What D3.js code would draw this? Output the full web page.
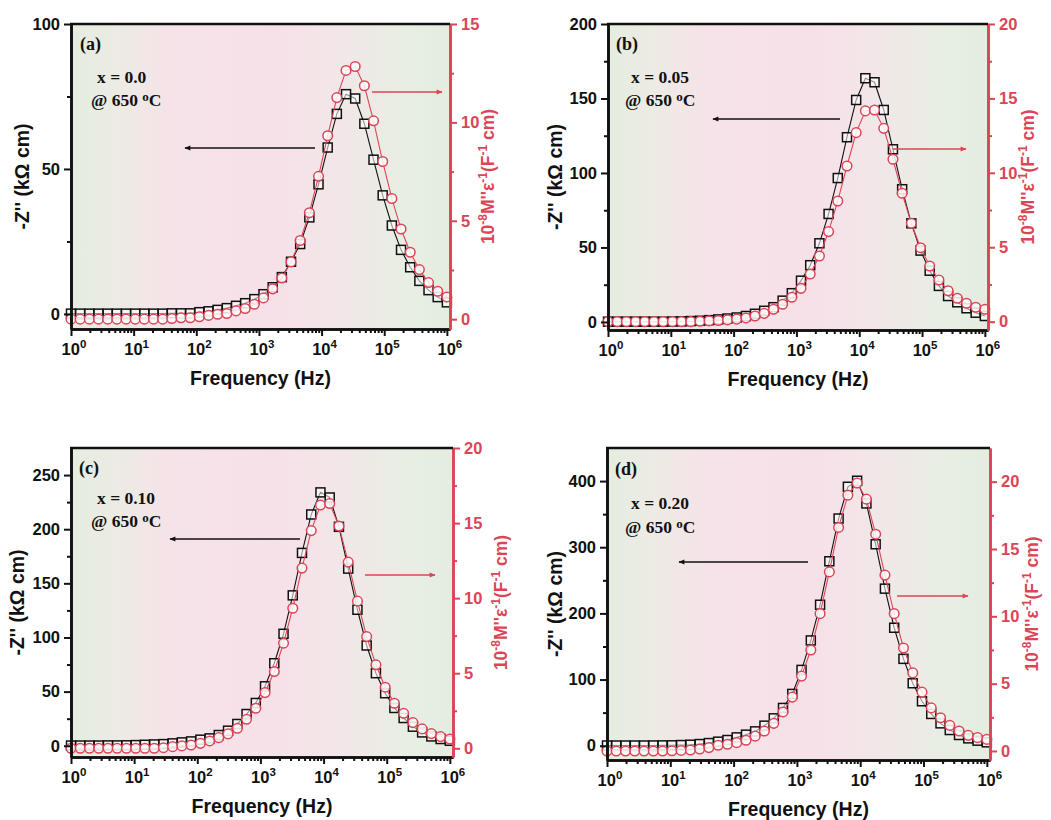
<!DOCTYPE html>
<html>
<head>
<meta charset="utf-8">
<script src="https://cdn.jsdelivr.net/npm/d3@7"></script>
<style>
body { margin: 0; background: #fff; }
text { font-family: "Liberation Sans", Arial, sans-serif; }
</style>
</head>
<body>
<div id="chart"></div>
<script>
// frequency grid (Hz), 42 log-spaced points from 1 Hz to 1 MHz
var freq = [1, 1.40, 1.96, 2.75, 3.85, 5.39, 7.55, 10.6, 14.8, 20.8, 29.1, 40.7, 57.0, 79.9,
  112, 157, 219, 307, 431, 603, 845, 1183, 1658, 2322, 3252, 4555, 6380, 8937,
  12520, 17530, 24560, 34400, 48180, 67480, 94540, 132400, 185500, 259800, 363900, 509700, 713900, 1000000];

// -Z'' (kOhm cm)
var zA = [0.1, 0.1, 0.1, 0.1, 0.1, 0.1, 0.1, 0.1, 0.1, 0.1, 0.1, 0.2, 0.2, 0.2, 0.6, 0.9, 1.4, 2.0, 2.8, 3.7, 5.1,
  6.8, 9.2, 12.7, 18.0, 24.1, 33.3, 44.7, 57.4, 69.0, 75.8, 74.3, 65.6, 53.2, 40.9, 30.5, 22.1, 16.1, 11.4, 8.2, 5.8, 4.0];
var zB = [0.2, 0.2, 0.2, 0.2, 0.2, 0.2, 0.2, 0.3, 0.4, 0.6, 0.8, 1.2, 1.7, 2.3, 3.0, 4.0, 5.5, 7.5,
  9.9, 14.3, 19.3, 27.7, 38.1, 52.8, 72.5, 96.6, 124, 149, 163.6, 160.9, 142.3, 115.9, 89.1, 66.2, 47.9, 34.4, 24.2, 17.4, 13.2, 9.2, 6.2, 4.0];
var zC = [0.2, 0.2, 0.2, 0.2, 0.3, 0.3, 0.4, 0.6, 0.9, 1.2, 1.5, 2.2, 3.1, 4.0, 5.6, 6.8, 9.9, 13.9, 20.1, 29.3, 39.5,
  54.9, 76.2, 103.4, 138.9, 178.1, 213.6, 234.0, 229.3, 202.2, 163.6, 125.6, 92.6, 67.0, 48.5, 34.9, 25.6, 17.6, 12.3, 8.6, 6.2, 4.6];
var zD = [0.3, 0.3, 0.3, 0.3, 0.3, 0.4, 0.5, 0.6, 1.0, 1.5, 2.5, 4.0, 6.1, 8.6, 12.6, 16.7, 21.7, 30.3, 41.4, 57.1, 78.3,
  114.6, 159.1, 213.1, 278.8, 343.4, 391.4, 400.5, 366.2, 304.5, 237.4, 178.3, 131.3, 94.4, 67.2, 48.0, 33.8, 23.7, 16.2, 11.1, 7.6, 5.1];

// 10^-8 M''/eps (F^-1 cm)
var mA = [0, 0, 0, 0, 0, 0, 0, 0, 0, 0, 0, 0.03, 0.07, 0.07, 0.12, 0.19, 0.25, 0.29, 0.42, 0.54, 0.76,
  1.08, 1.54, 2.09, 2.91, 4.00, 5.41, 7.26, 9.32, 11.26, 12.64, 12.84, 11.86, 10.08, 8.01, 6.13, 4.58, 3.40, 2.52, 1.86, 1.42, 1.13];
var mB = [0, 0, 0, 0, 0, 0, 0, 0, 0, 0, 0.03, 0.05, 0.08, 0.12, 0.17, 0.25, 0.38, 0.56, 0.83, 1.17, 1.64,
  2.24, 3.2, 4.41, 6.05, 8.11, 10.46, 12.70, 14.16, 14.22, 12.99, 10.91, 8.63, 6.61, 4.97, 3.74, 2.80, 2.08, 1.57, 1.24, 0.97, 0.83];
var mC = [0, 0, 0, 0, 0, 0, 0, 0, 0, 0, 0.04, 0.11, 0.16, 0.22, 0.33, 0.49, 0.71, 0.96, 1.33, 1.93, 2.67,
  3.71, 5.11, 7.0, 9.33, 12.0, 14.5, 16.2, 16.3, 14.8, 12.4, 9.8, 7.44, 5.56, 4.07, 3.0, 2.33, 1.71, 1.29, 0.98, 0.78, 0.62];
var mD = [0, 0, 0, 0, 0, 0, 0, 0.02, 0.04, 0.07, 0.15, 0.25, 0.42, 0.5, 0.62, 0.8, 1.1, 1.48, 2.05, 2.9, 4.0,
  5.56, 7.5, 10.2, 13.3, 16.6, 19.0, 19.9, 18.7, 16.1, 13.06, 10.2, 7.65, 5.8, 4.37, 3.2, 2.47, 1.9, 1.48, 1.16, 0.99, 0.86];

var panelTags = ["(a)", "(b)", "(c)", "(d)"];
var compositions = ["x = 0.0", "x = 0.05", "x = 0.10", "x = 0.20"];
var xExponents = [0, 1, 2, 3, 4, 5, 6];
var zTickSets = [[0, 50, 100], [0, 50, 100, 150, 200], [0, 50, 100, 150, 200, 250], [0, 100, 200, 300, 400]];
var zMinorSets = [[25, 75], [25, 75, 125, 175], [25, 75, 125, 175, 225], [50, 150, 250, 350]];
var mTickSets = [[0, 5, 10, 15], [0, 5, 10, 15, 20], [0, 5, 10, 15, 20], [0, 5, 10, 15, 20]];
var mMinorSets = [[2.5, 7.5, 12.5], [2.5, 7.5, 12.5, 17.5], [2.5, 7.5, 12.5, 17.5], [2.5, 7.5, 12.5, 17.5]];

var red = "#dc4556";
var width = 1051, height = 820;

// layout of each panel (pixel boxes, axis ranges, annotation spots)
var panels = [
  {z: zA, m: mA, L: 71, R: 450, T: 24, B: 329, zDom: [-5.2, 100], mDom: [-0.5, 15],
   tag: [9, 20], comp: [26, 53], temp: [20, 76], zt: 49, mt: 38,
   back: [[315, 148], [185, 148]], fwd: [[372, 92], [442, 92]]},
  {z: zB, m: mB, L: 608, R: 988, T: 24, B: 330, zDom: [-5.4, 200], mDom: [-0.56, 20],
   tag: [8, 20], comp: [23, 53], temp: [17, 76], zt: 53, mt: 40,
   back: [[840, 119], [713, 119]], fwd: [[893, 149], [966, 149]]},
  {z: zC, m: mC, L: 71, R: 453, T: 448, B: 757, zDom: [-10.4, 275], mDom: [-0.58, 20],
   tag: [8, 20], comp: [26, 50], temp: [20, 73], zt: 54, mt: 48,
   back: [[300, 539], [170, 539]], fwd: [[365, 575], [435, 575]]},
  {z: zD, m: mD, L: 607, R: 990, T: 448, B: 760, zDom: [-21.6, 450], mDom: [-0.67, 22.5],
   tag: [8, 21], comp: [24, 55], temp: [18, 79], zt: 52, mt: 42,
   back: [[808, 562], [679, 562]], fwd: [[897, 596], [968, 596]]}
];

var svg = d3.select("#chart").append("svg")
  .attr("width", width)
  .attr("height", height);

var defs = svg.append("defs");
var grad = defs.append("linearGradient").attr("id", "bg")
  .attr("x1", "0%").attr("x2", "100%").attr("y1", "0%").attr("y2", "0%");
[["0%", "#e5ede0"], ["12%", "#ecebe4"], ["28%", "#f6e2e9"], ["55%", "#f7e1e9"],
 ["72%", "#f1e7e8"], ["88%", "#e8eee3"], ["100%", "#e4ede0"]].forEach(function(s) {
  grad.append("stop").attr("offset", s[0]).attr("stop-color", s[1]);
});
["blk", "red"].forEach(function(id) {
  defs.append("marker").attr("id", "head-" + id)
    .attr("viewBox", "0 0 10 10").attr("refX", 9).attr("refY", 5)
    .attr("markerWidth", 7).attr("markerHeight", 6).attr("orient", "auto")
    .attr("markerUnits", "userSpaceOnUse")
    .append("path").attr("d", "M0,1 L10,5 L0,9 Z")
    .attr("fill", id == "red" ? red : "#111");
});

panels.forEach(drawPanel);

function drawPanel(p, i) {
  var x = d3.scaleLog().domain([1, Math.pow(10, 6.05)]).range([p.L, p.R]);
  var yz = d3.scaleLinear().domain(p.zDom).range([p.B, p.T]);
  var ym = d3.scaleLinear().domain(p.mDom).range([p.B, p.T]);
  var g = svg.append("g");

  g.append("rect")
    .attr("x", p.L).attr("y", p.T)
    .attr("width", p.R - p.L).attr("height", p.B - p.T)
    .attr("fill", "url(#bg)");

  var pts = freq.map(function(f, k) { return {f: f, z: p.z[k], m: p.m[k]}; });

  // -Z'' series
  g.append("path").datum(pts)
    .attr("d", d3.line().x(function(d) { return x(d.f); }).y(function(d) { return yz(d.z); }))
    .attr("fill", "none").attr("stroke", "#111").attr("stroke-width", 1.1);
  g.selectAll(".sq").data(pts).enter().append("rect")
    .attr("x", function(d) { return x(d.f) - 4.5; })
    .attr("y", function(d) { return yz(d.z) - 4.5; })
    .attr("width", 9).attr("height", 9)
    .attr("fill", "rgba(255,255,255,0.55)")
    .attr("stroke", "#111").attr("stroke-width", 1.5);

  // M'' series
  g.append("path").datum(pts)
    .attr("d", d3.line().x(function(d) { return x(d.f); }).y(function(d) { return ym(d.m); }))
    .attr("fill", "none").attr("stroke", red).attr("stroke-width", 1.1);
  g.selectAll(".ci").data(pts).enter().append("circle")
    .attr("cx", function(d) { return x(d.f); })
    .attr("cy", function(d) { return ym(d.m); })
    .attr("r", 4.8)
    .attr("fill", "rgba(255,255,255,0.85)")
    .attr("stroke", red).attr("stroke-width", 1.5);

  // bottom axis
  var decades = xExponents.map(function(e) { return Math.pow(10, e); });
  var minors = [];
  decades.slice(0, 6).forEach(function(d) {
    for (var k = 2; k < 10; k++) minors.push(d * k);
  });
  var bx = g.append("g").attr("transform", "translate(0," + p.B + ")");
  bx.call(d3.axisBottom(x).tickValues(minors).tickSize(4).tickSizeOuter(0).tickFormat(""));
  bx.append("g").call(d3.axisBottom(x).tickValues(decades).tickSize(7).tickSizeOuter(0).tickFormat(""));
  bx.selectAll("line").attr("stroke", "#111").attr("stroke-width", 2);
  bx.selectAll(".domain").attr("stroke", "#111").attr("stroke-width", 2.6);
  xExponents.forEach(function(e) {
    var t = g.append("text")
      .attr("x", x(Math.pow(10, e)) + 3).attr("y", p.B + 26)
      .attr("text-anchor", "middle")
      .attr("font-size", 16.5).attr("font-weight", "bold").attr("fill", "#111");
    t.append("tspan").text("10");
    t.append("tspan").attr("dy", -7).attr("font-size", 11.5).text(e);
  });

  // left axis
  var lx = g.append("g").attr("transform", "translate(" + p.L + ",0)");
  lx.call(d3.axisLeft(yz).tickValues(zMinorSets[i]).tickSize(4).tickSizeOuter(0).tickFormat(""));
  lx.append("g").call(d3.axisLeft(yz).tickValues(zTickSets[i]).tickSize(7).tickPadding(4).tickSizeOuter(0).tickFormat(d3.format("d")));
  lx.selectAll("line").attr("stroke", "#111").attr("stroke-width", 2);
  lx.selectAll(".domain").attr("stroke", "#111").attr("stroke-width", 2.6);
  lx.selectAll("text").attr("font-size", 16.5).attr("font-weight", "bold")
    .attr("fill", "#111").style("font-family", "'Liberation Sans', Arial, sans-serif");

  // right axis
  var rx = g.append("g").attr("transform", "translate(" + p.R + ",0)");
  rx.call(d3.axisRight(ym).tickValues(mMinorSets[i]).tickSize(4).tickSizeOuter(0).tickFormat(""));
  rx.append("g").call(d3.axisRight(ym).tickValues(mTickSets[i]).tickSize(7).tickPadding(4).tickSizeOuter(0).tickFormat(d3.format("d")));
  rx.selectAll("line").attr("stroke", red).attr("stroke-width", 2);
  rx.selectAll(".domain").attr("stroke", red).attr("stroke-width", 2.6);
  rx.selectAll("text").attr("font-size", 16.5).attr("font-weight", "bold")
    .attr("fill", red).style("font-family", "'Liberation Sans', Arial, sans-serif");

  // top frame
  g.append("line")
    .attr("x1", p.L - 1).attr("x2", p.R).attr("y1", p.T).attr("y2", p.T)
    .attr("stroke", "#111").attr("stroke-width", 2.6);

  // axis titles
  g.append("text")
    .attr("transform", "translate(" + (p.L + (p.R - p.L) / 2) + "," + (p.B + 56) + ")")
    .attr("text-anchor", "middle")
    .attr("font-size", 19.5).attr("font-weight", "bold").attr("fill", "#111")
    .text("Frequency (Hz)");

  g.append("text")
    .attr("transform", "translate(" + (p.L - p.zt) + "," + ((p.T + p.B) / 2) + ") rotate(-90)")
    .attr("text-anchor", "middle").attr("dy", "0.35em")
    .attr("font-size", 19.5).attr("font-weight", "bold").attr("fill", "#111")
    .text("-Z'' (k\u03A9 cm)");

  var rt = g.append("text")
    .attr("transform", "translate(" + (p.R + p.mt) + "," + ((p.T + p.B) / 2) + ") rotate(-90)")
    .attr("text-anchor", "middle").attr("dy", "0.35em")
    .attr("font-size", 17.5).attr("font-weight", "bold").attr("fill", red);
  rt.append("tspan").text("10");
  rt.append("tspan").attr("dy", -7).attr("font-size", 12).text("-8");
  rt.append("tspan").attr("dy", 7).text("M''\u03B5");
  rt.append("tspan").attr("dy", -7).attr("font-size", 12).text("-1");
  rt.append("tspan").attr("dy", 7).text("(F");
  rt.append("tspan").attr("dy", -7).attr("font-size", 12).text("-1");
  rt.append("tspan").attr("dy", 7).text(" cm)");

  // annotations
  var serif = "'Liberation Serif', 'Times New Roman', serif";
  g.append("text").attr("x", p.L + p.tag[0]).attr("y", p.T + p.tag[1]).attr("dy", "0.35em")
    .style("font-family", serif).attr("font-size", 18).attr("font-weight", "bold").attr("fill", "#111")
    .text(panelTags[i]);
  g.append("text").attr("x", p.L + p.comp[0]).attr("y", p.T + p.comp[1]).attr("dy", "0.35em")
    .style("font-family", serif).attr("font-size", 17.5).attr("font-weight", "bold").attr("fill", "#111")
    .text(compositions[i]);
  var tt = g.append("text").attr("x", p.L + p.temp[0]).attr("y", p.T + p.temp[1]).attr("dy", "0.35em")
    .style("font-family", serif).attr("font-size", 17.5).attr("font-weight", "bold").attr("fill", "#111");
  tt.append("tspan").text("@ 650 ");
  tt.append("tspan").attr("dy", -5).attr("font-size", 13).text("o");
  tt.append("tspan").attr("dy", 5).text("C");

  g.append("line")
    .attr("x1", p.back[0][0]).attr("y1", p.back[0][1]).attr("x2", p.back[1][0]).attr("y2", p.back[1][1])
    .attr("stroke", "#111").attr("stroke-width", 1.4).attr("marker-end", "url(#head-blk)");
  g.append("line")
    .attr("x1", p.fwd[0][0]).attr("y1", p.fwd[0][1]).attr("x2", p.fwd[1][0]).attr("y2", p.fwd[1][1])
    .attr("stroke", red).attr("stroke-width", 1.4).attr("marker-end", "url(#head-red)");
}
</script>
</body>
</html>
